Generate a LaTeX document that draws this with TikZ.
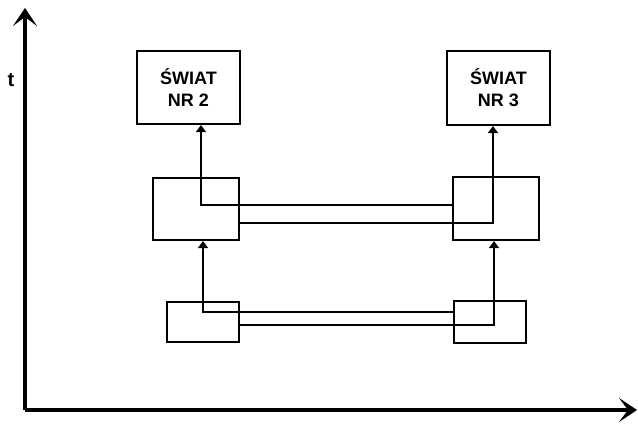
\documentclass[tikz,border=0pt]{standalone}
\usepackage{fontspec}
\setmainfont{Liberation Sans}
\usetikzlibrary{arrows.meta}
\begin{document}
\begin{tikzpicture}[x=1pt,y=-1pt,
  box/.style={draw,line width=2.2pt,rectangle,inner sep=0pt},
  world/.style={box,font=\fontsize{18}{22}\selectfont\bfseries,align=center},
  conn/.style={line width=2pt,-{Triangle[length=7pt,width=10pt]}},
  axis/.style={line width=4pt,-{Stealth[length=18pt,width=24pt,inset=9pt]}}]
\useasboundingbox (0,0) rectangle (638,427);
% axes
\coordinate (o) at (25,410);
\coordinate (ty) at (25,8);
\coordinate (tx) at (637,410);
\draw[axis] (o) -- (ty);
\draw[axis] (o) -- (tx);
\node[font=\fontsize{20}{22}\selectfont\bfseries] (tl) at (11,80) {t};
% boxes
\node[world,minimum width=103pt,minimum height=73pt] (t1) at (188.5,87.5) {ŚWIAT\\NR 2};
\node[world,minimum width=103pt,minimum height=74pt] (t2) at (498.5,88) {ŚWIAT\\NR 3};
\node[box,minimum width=86pt,minimum height=62pt] (m1) at (196,209) {};
\node[box,minimum width=86pt,minimum height=63pt] (m2) at (496,208.5) {};
\node[box,minimum width=72pt,minimum height=40pt] (b1) at (203,322) {};
\node[box,minimum width=72pt,minimum height=42pt] (b2) at (490,322) {};
% helper coordinates
\coordinate (pa) at (203,312);
\coordinate (pb) at (494,325);
\coordinate (qa) at (201,205);
\coordinate (qb) at (493,223);
% bottom connectors
\draw[conn] (b2.west |- pa) -- (pa) -- (m1.south -| pa);
\draw[conn] (b1.east |- pb) -- (pb) -- (m2.south -| pb);
% middle connectors
\draw[conn,line width=2.6pt] (m2.west |- qa) -- (qa) -- (t1.south -| qa);
\draw[conn] (m1.east |- qb) -- (qb) -- (t2.south -| qb);
\end{tikzpicture}
\end{document}
